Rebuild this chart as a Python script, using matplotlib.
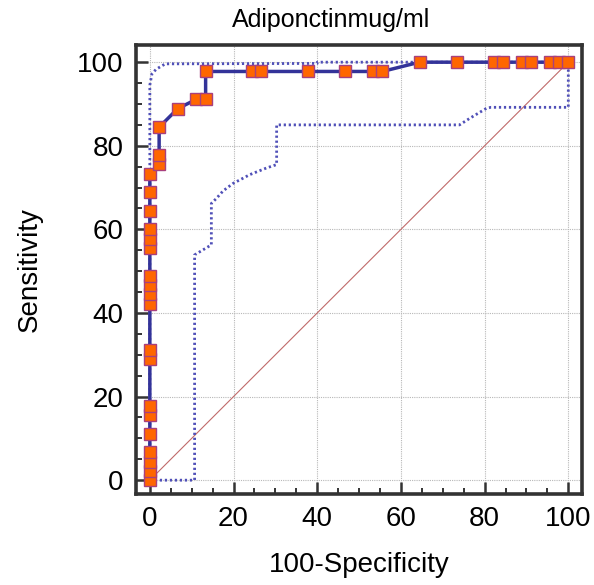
import numpy as np
import matplotlib
matplotlib.use("Agg")
import matplotlib.pyplot as plt
from matplotlib.ticker import MultipleLocator

plt.rcParams['font.family'] = ['Liberation Sans', 'DejaVu Sans']

# ROC points (100-Specificity, Sensitivity)
roc_x = [0, 0, 0, 0, 0, 0, 0, 0, 0, 0, 0, 0, 0, 0, 0, 0, 0, 0, 0,
         2.22, 2.22, 2.22, 6.67, 11.11, 13.33, 13.33,
         24.44, 26.67, 37.78, 46.67, 53.33, 55.56,
         64.44, 73.33, 82.22, 84.44, 88.89, 91.11, 95.56, 97.78, 100]
roc_y = [0, 2.22, 4.44, 6.67, 11.11, 15.56, 17.78, 28.89, 31.11,
         42.22, 44.44, 46.67, 48.89, 55.56, 57.78, 60.0, 64.44, 68.89, 73.33,
         75.56, 77.78, 84.44, 88.89, 91.11, 91.11, 97.78,
         97.78, 97.78, 97.78, 97.78, 97.78, 97.78,
         100, 100, 100, 100, 100, 100, 100, 100, 100]

# confidence bounds
upper_x = [0, 0, 0.5, 1.5, 2.5, 3.7, 40, 40, 100]
upper_y = [0, 94.5, 97.2, 98.3, 98.9, 99.6, 99.7, 100, 100]
lower_x = [0, 10.7, 10.7, 14.7, 14.7, 15.9, 17.5, 19.9, 23.9, 27.9, 30.3, 30.3,
           74.0, 76.5, 78.5, 80.5, 81.5, 100, 100]
lower_y = [0, 0, 53.9, 56.3, 66.2, 67.4, 69.2, 71.0, 73.1, 74.7, 75.5, 85.0,
           85.0, 86.6, 87.8, 89.0, 89.2, 89.2, 100]

fig = plt.figure(figsize=(5.94, 5.85), dpi=100)
ax = fig.add_axes([0.229, 0.1556, 0.751, 0.7674])

ax.plot([0, 100], [0, 100], color='#c06a6a', lw=0.8, zorder=2)
ax.plot(upper_x, upper_y, color='#5050b8', lw=2.0, linestyle=(0, (0.8, 1.0)), zorder=3)
ax.plot(lower_x, lower_y, color='#5050b8', lw=2.0, linestyle=(0, (0.8, 1.0)), zorder=3)
ax.plot(roc_x, roc_y, color='#333399', lw=2.5, zorder=4)
ax.plot(roc_x, roc_y, linestyle='none', marker='s', markersize=8.3,
        markerfacecolor='#ff6600', markeredgecolor='#a8407e', markeredgewidth=1.0,
        zorder=5)

ax.set_xlim(-3.3, 103.3)
ax.set_ylim(-3.3, 104.1)
ax.xaxis.set_major_locator(MultipleLocator(20))
ax.yaxis.set_major_locator(MultipleLocator(20))
ax.xaxis.set_minor_locator(MultipleLocator(5))
ax.yaxis.set_minor_locator(MultipleLocator(5))
ax.grid(True, which='major', color='#b8b8b8', linestyle=(0, (1, 1)), lw=0.8)
ax.set_axisbelow(True)

for s in ax.spines.values():
    s.set_linewidth(2.6)
    s.set_color('#333333')

ax.tick_params(which='major', direction='in', length=8.5, width=1.8,
               color='#333333', labelsize=20, pad=9)
ax.tick_params(which='minor', direction='in', length=4.5, width=1.4,
               color='#333333')

fig.text(0.558, 0.966, 'Adiponctinmug/ml', fontsize=18, ha='center', va='center')
ax.set_xlabel('100-Specificity', fontsize=20)
ax.set_ylabel('Sensitivity', fontsize=20)
ax.xaxis.label.set_va('center')
ax.yaxis.label.set_va('center')
ax.xaxis.set_label_coords(0.5, -0.158)
ax.yaxis.set_label_coords(-0.238, 0.5)

fig.savefig('out.png', dpi=100)
